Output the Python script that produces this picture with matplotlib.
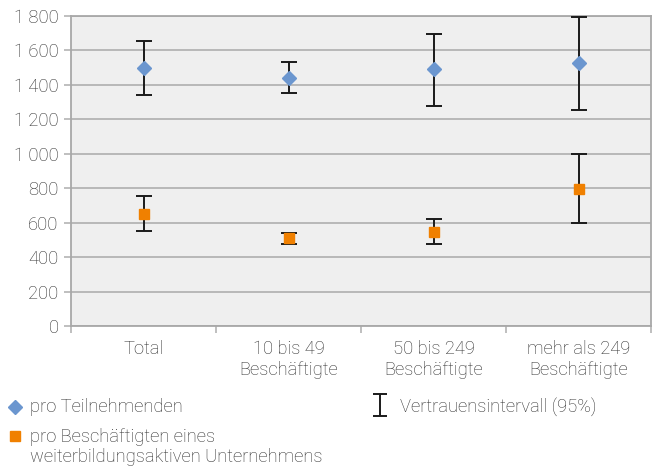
import matplotlib
matplotlib.use("Agg")
import matplotlib.pyplot as plt

plt.rcParams['font.family'] = ['Roboto', 'DejaVu Sans']
plt.rcParams['font.weight'] = 'light'

# data
categories = ["Total", "10 bis 49\nBeschäftigte", "50 bis 249\nBeschäftigte", "mehr als 249\nBeschäftigte"]
teiln = [1500, 1442, 1490, 1525]
teiln_lo = [1340, 1351, 1279, 1256]
teiln_hi = [1657, 1535, 1697, 1794]
besch = [652, 509, 548, 797]
besch_lo = [552, 478, 478, 596]
besch_hi = [755, 542, 621, 997]
yticks = [0, 200, 400, 600, 800, 1000, 1200, 1400, 1600, 1800]

blue = "#6b96cf"
orange = "#f08000"
grid = "#b4b4b4"
txt = "#2e2e2e"
fs = 13.2

fig = plt.figure(figsize=(6.53, 4.68), dpi=100)
ax = fig.add_axes([71/653, 1 - 326/468, 580/653, 310/468])
ax.set_facecolor("#efefef")

x = range(len(categories))
err_t = [[v - lo for v, lo in zip(teiln, teiln_lo)], [hi - v for v, hi in zip(teiln, teiln_hi)]]
err_b = [[v - lo for v, lo in zip(besch, besch_lo)], [hi - v for v, hi in zip(besch, besch_hi)]]
ax.errorbar(x, teiln, yerr=err_t, fmt='none', ecolor='#1a1a1a', elinewidth=1.4,
            capsize=5.5, capthick=1.4, zorder=3)
ax.errorbar(x, besch, yerr=err_b, fmt='none', ecolor='#1a1a1a', elinewidth=1.4,
            capsize=5.5, capthick=1.4, zorder=3)
ax.plot(x, teiln, linestyle='none', marker='D', ms=7.5, color=blue, zorder=4)
ax.plot(x, besch, linestyle='none', marker='s', ms=7, color=orange, zorder=4)

ax.set_xlim(-0.5, len(categories) - 0.5)
ax.set_ylim(0, 1800)
ax.set_yticks(yticks)
ax.set_yticklabels([f"{v:,}".replace(",", " ") for v in yticks], fontsize=fs, color=txt)
ax.yaxis.grid(True, color=grid, linewidth=1.3)
ax.set_axisbelow(True)

# categories centred, ticks at boundaries
ax.set_xticks(list(x))
ax.set_xticklabels(categories, fontsize=fs, color=txt, linespacing=1.2)
ax.tick_params(axis='x', length=0, pad=10)
ax.set_xticks([i - 0.5 for i in range(len(categories) + 1)], minor=True)
ax.tick_params(axis='x', which='minor', length=5, color=grid, width=1.2)
ax.tick_params(axis='y', length=5, color=grid, width=1.2, pad=4)
for s in ax.spines.values():
    s.set_color("#a8a8a8")
    s.set_linewidth(1.3)

# legend drawn by hand below the chart
lax = fig.add_axes([0, 0, 1, 88/468])
lax.set_xlim(0, 653)
lax.set_ylim(88, 0)
lax.axis('off')
lax.plot([15], [27], marker='D', ms=7.5, color=blue, linestyle='none')
lax.plot([15], [56], marker='s', ms=7, color=orange, linestyle='none')
lax.errorbar([380], [25], yerr=[[11], [11]], fmt='none', ecolor='#1a1a1a',
             elinewidth=1.4, capsize=5, capthick=1.4)
lax.text(30, 27, "pro Teilnehmenden", fontsize=fs, va='center', color=txt)
lax.text(30, 67, "pro Beschäftigten eines\nweiterbildungsaktiven Unternehmens",
         fontsize=fs, va='center', color=txt, linespacing=1.15)
lax.text(400, 27, "Vertrauensintervall (95%)", fontsize=fs, va='center', color=txt)

fig.savefig("out.png", dpi=100)
